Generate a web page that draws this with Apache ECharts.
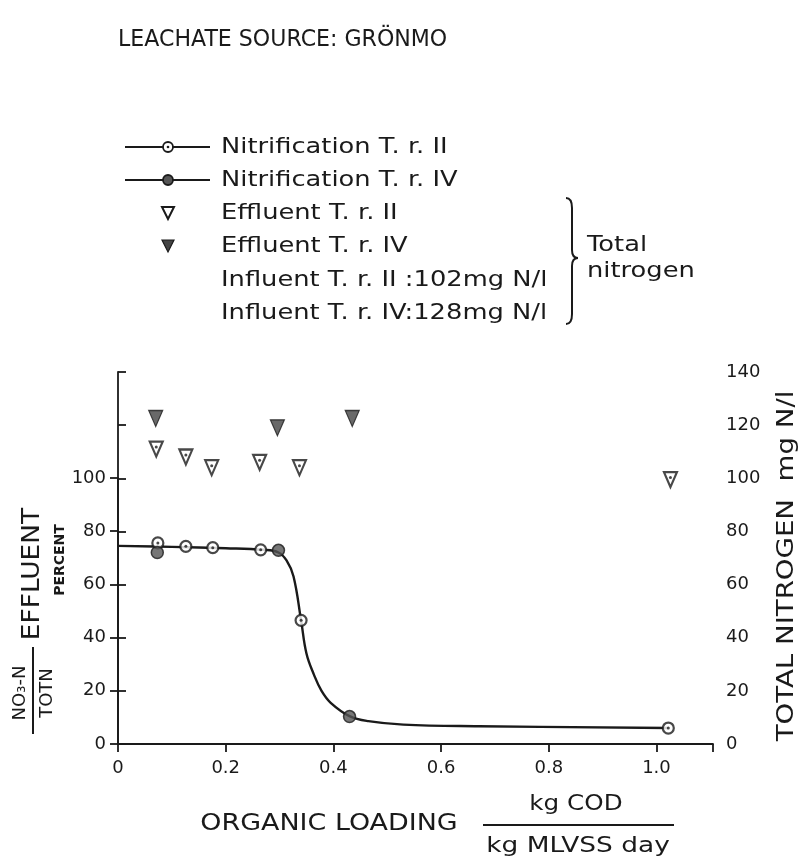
<!DOCTYPE html>
<html><head><meta charset="utf-8">
<script src="https://cdn.jsdelivr.net/npm/echarts@6/dist/echarts.min.js"></script>
<style>html,body{margin:0;background:#fff}#c{width:808px;height:859px}</style>
</head><body><div id="c"></div>
<script>
// ---- data ----
const xTickValues = [0, 0.2, 0.4, 0.6, 0.8, 1.0];

// Nitrification (NO3-N / TOTN effluent, percent) - left axis
const nitrifIIx = [0.074, 0.126, 0.176, 0.265, 0.340, 1.022];
const nitrifIIy = [75.6, 74.3, 73.8, 73.0, 46.5, 6.0];
const nitrifIVx = [0.073, 0.298, 0.430];
const nitrifIVy = [72.0, 72.8, 10.3];

// fitted curve through the nitrification data
const curveX = [0, 0.1, 0.2, 0.27, 0.298, 0.313, 0.326, 0.34, 0.35, 0.364, 0.378, 0.395, 0.43, 0.465, 0.53, 0.67, 1.022];
const curveY = [74.5, 74.1, 73.6, 73.0, 72.0, 69, 63, 46.5, 34, 26, 20, 15.5, 10.5, 8.6, 7.3, 6.7, 6.0];

// Total nitrogen in effluent, mg N/l - right axis
const effIIx = [0.071, 0.126, 0.174, 0.263, 0.337, 1.026];
const effIIy = [111, 108, 104, 106, 104, 99.5];
const effIVx = [0.070, 0.296, 0.435];
const effIVy = [122.5, 119, 122.5];

const legendLabels = ['Nitrification T. r. II', 'Nitrification T. r. IV', 'Effluent T. r. II', 'Effluent T. r. IV',
  'Influent T. r. II :102mg N/l', 'Influent T. r. IV:128mg N/l'];

// ---- chart ----
const FONT = 'DejaVu Sans';
const INK = '#1a1a1a';
const pairs = (xs, ys) => xs.map((x, i) => [x, ys[i]]);
const chart = echarts.init(document.getElementById('c'));

const rowY = [147, 180, 213, 246, 280, 313];
const textX = 221;
const graphics = [];
const txt = (x, y, text, size, opts) => Object.assign({type: 'text', x, y,
  style: {text, font: size + 'px ' + FONT, fill: INK, verticalAlign: 'middle', align: (opts && opts.align) || 'left'}},
  opts && opts.extra);
graphics.push(txt(118, 40, 'LEACHATE SOURCE: GRÖNMO', 23, {extra: {scaleX: 0.96}}));
legendLabels.forEach((t, i) => graphics.push(txt(textX, rowY[i], t, 22, {extra: {scaleX: 1.17}})));
// legend keys
for (let i = 0; i < 2; i++) {
  graphics.push({type: 'line', shape: {x1: 125, y1: rowY[i], x2: 210, y2: rowY[i]}, style: {stroke: INK, lineWidth: 2}});
  graphics.push({type: 'circle', shape: {cx: 168, cy: rowY[i], r: 5}, style: {fill: i === 0 ? '#fff' : '#555', stroke: INK, lineWidth: 1.8}});
  if (i === 0) graphics.push({type: 'circle', shape: {cx: 168, cy: rowY[i], r: 1.3}, style: {fill: INK}});
}
graphics.push({type: 'polygon', shape: {points: [[162, rowY[2] - 6], [174, rowY[2] - 6], [168, rowY[2] + 6]]}, style: {fill: '#fff', stroke: INK, lineWidth: 2}});
graphics.push({type: 'polygon', shape: {points: [[162, rowY[3] - 6], [174, rowY[3] - 6], [168, rowY[3] + 6]]}, style: {fill: '#444', stroke: INK, lineWidth: 1.2}});
// brace
const bTop = 198, bBot = 324, bx = 566, bMid = 258;
const braceStyle = {fill: 'none', stroke: INK, lineWidth: 2};
graphics.push({type: 'bezierCurve', shape: {x1: bx, y1: bTop, x2: bx + 6, y2: bTop + 10, cpx1: bx + 6, cpy1: bTop}, style: braceStyle});
graphics.push({type: 'line', shape: {x1: bx + 6, y1: bTop + 10, x2: bx + 6, y2: bMid - 8}, style: braceStyle});
graphics.push({type: 'bezierCurve', shape: {x1: bx + 6, y1: bMid - 8, x2: bx + 12, y2: bMid, cpx1: bx + 6, cpy1: bMid}, style: braceStyle});
graphics.push({type: 'bezierCurve', shape: {x1: bx + 12, y1: bMid, x2: bx + 6, y2: bMid + 8, cpx1: bx + 6, cpy1: bMid}, style: braceStyle});
graphics.push({type: 'line', shape: {x1: bx + 6, y1: bMid + 8, x2: bx + 6, y2: bBot - 10}, style: braceStyle});
graphics.push({type: 'bezierCurve', shape: {x1: bx + 6, y1: bBot - 10, x2: bx, y2: bBot, cpx1: bx + 6, cpy1: bBot}, style: braceStyle});
graphics.push(txt(587, 245, 'Total', 22, {extra: {scaleX: 1.17}}));
graphics.push(txt(587, 271, 'nitrogen', 22, {extra: {scaleX: 1.17}}));

// left axis title
const rot = Math.PI / 2;
graphics.push(txt(33, 574, 'EFFLUENT', 24, {align: 'center', extra: {rotation: rot, scaleX: 1.1}}));
graphics.push({type: 'text', x: 60, y: 560, rotation: rot,
  style: {text: 'PERCENT', font: 'bold 14px ' + FONT, fill: INK, align: 'center', verticalAlign: 'middle'}});
graphics.push({type: 'line', shape: {x1: 33, y1: 647, x2: 33, y2: 734}, style: {stroke: INK, lineWidth: 2}});
graphics.push(txt(20, 693, 'NO₃-N', 18, {align: 'center', extra: {rotation: rot}}));
graphics.push(txt(47, 693, 'TOTN', 18, {align: 'center', extra: {rotation: rot}}));
// right axis title
graphics.push(txt(787, 566, 'TOTAL NITROGEN  mg N/l', 23, {align: 'center', extra: {rotation: rot, scaleX: 1.2}}));
// x axis title
graphics.push(txt(329, 824, 'ORGANIC LOADING', 23, {align: 'center', extra: {scaleX: 1.17}}));
graphics.push(txt(576, 804, 'kg COD', 22, {align: 'center', extra: {scaleX: 1.12}}));
graphics.push({type: 'line', shape: {x1: 483, y1: 825, x2: 674, y2: 825}, style: {stroke: INK, lineWidth: 2}});
graphics.push(txt(578, 846, 'kg MLVSS day', 22, {align: 'center', extra: {scaleX: 1.2}}));

const axisLine = {show: true, lineStyle: {color: INK, width: 1.8}};
const axisTick = {show: true, inside: false, length: 8, lineStyle: {color: INK, width: 1.8}};
const lbl = {color: INK, fontFamily: FONT, fontSize: 18};

chart.setOption({
  animation: false,
  backgroundColor: '#fff',
  grid: [
    {left: 118, right: 95, top: 372, bottom: 115},
    {left: 118, right: 95, top: 478, bottom: 115}
  ],
  xAxis: [
    {gridIndex: 0, type: 'value', min: 0, max: 1.105, interval: 0.2, axisLine, axisTick,
     splitLine: {show: false},
     axisLabel: Object.assign({}, lbl, {margin: 15, formatter: v => v > 1.05 ? '' : (v === 0 ? '0' : v.toFixed(1))})},
    {gridIndex: 1, type: 'value', min: 0, max: 1.105, show: false}
  ],
  yAxis: [
    {gridIndex: 0, type: 'value', position: 'right', min: 0, max: 140, interval: 20, axisLine, axisTick,
     splitLine: {show: false}, axisLabel: Object.assign({}, lbl, {margin: 13})},
    {gridIndex: 1, type: 'value', position: 'left', min: 0, max: 100, interval: 20, axisLine, axisTick,
     splitLine: {show: false}, axisLabel: Object.assign({}, lbl, {margin: 12})}
  ],
  graphic: graphics,
  series: [
    {type: 'line', xAxisIndex: 1, yAxisIndex: 1, data: pairs(curveX, curveY), smooth: 0.4,
     showSymbol: false, lineStyle: {color: INK, width: 2.4}, z: 2},
    {name: 'Nitrification T. r. II', type: 'scatter', xAxisIndex: 1, yAxisIndex: 1, data: pairs(nitrifIIx, nitrifIIy),
     symbol: 'circle', symbolSize: 11, itemStyle: {color: '#fff', borderColor: INK, borderWidth: 2.2}, z: 4},
    {type: 'scatter', xAxisIndex: 1, yAxisIndex: 1, data: pairs(nitrifIIx, nitrifIIy),
     symbol: 'circle', symbolSize: 3, itemStyle: {color: INK}, z: 5},
    {name: 'Nitrification T. r. IV', type: 'scatter', xAxisIndex: 1, yAxisIndex: 1, data: pairs(nitrifIVx, nitrifIVy),
     symbol: 'circle', symbolSize: 12, itemStyle: {color: '#555', borderColor: INK, borderWidth: 1.5}, z: 4},
    {name: 'Effluent T. r. II', type: 'scatter', xAxisIndex: 0, yAxisIndex: 0, data: pairs(effIIx, effIIy),
     symbol: 'triangle', symbolRotate: 180, symbolSize: [13, 15], itemStyle: {color: '#fff', borderColor: INK, borderWidth: 2.2}, z: 4},
    {type: 'scatter', xAxisIndex: 0, yAxisIndex: 0, data: pairs(effIIx, effIIy),
     symbol: 'circle', symbolSize: 3, symbolOffset: [0, -2], itemStyle: {color: INK}, z: 5},
    {name: 'Effluent T. r. IV', type: 'scatter', xAxisIndex: 0, yAxisIndex: 0, data: pairs(effIVx, effIVy),
     symbol: 'triangle', symbolRotate: 180, symbolSize: [14, 16], itemStyle: {color: '#444', borderColor: INK, borderWidth: 1.2}, z: 4}
  ]
});
</script>
</body></html>
